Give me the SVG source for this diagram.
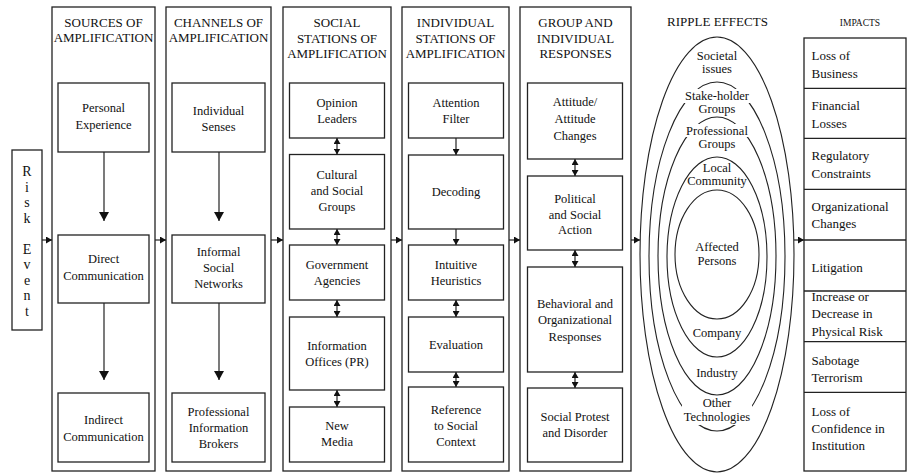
<svg xmlns="http://www.w3.org/2000/svg" width="907" height="473" viewBox="0 0 907 473" font-family="'Liberation Serif', 'Times New Roman', 'DejaVu Serif', serif">
<defs>
<style>
svg, text{font-family:'Liberation Serif','Times New Roman','DejaVu Serif',serif;fill:#111}
.h{font-size:13px;text-anchor:middle}
.t{font-size:12.5px;text-anchor:middle}
.e{font-size:12.5px;text-anchor:middle}
.i{font-size:13px}
.panel{fill:none;stroke:#222;stroke-width:1.3}
.box{fill:#fff;stroke:#222;stroke-width:1.3}
.ell{fill:none;stroke:#222;stroke-width:1.1}
.mask{fill:#fff;stroke:none}
#connectors line{stroke:#222;stroke-width:1.2}
.d{marker-start:url(#a);marker-end:url(#a)}
.s{marker-end:url(#a)}
.big{marker-end:url(#b)}
</style>
<marker id="a" viewBox="0 0 6 7" refX="6" refY="3.5" markerWidth="6" markerHeight="7" markerUnits="userSpaceOnUse" orient="auto-start-reverse"><path d="M0,0 L6,3.5 L0,7 z" fill="#111"/></marker>
<marker id="b" viewBox="0 0 9 10" refX="9" refY="5" markerWidth="9" markerHeight="10" markerUnits="userSpaceOnUse" orient="auto"><path d="M0,0 L9,5 L0,10 z" fill="#111"/></marker>
</defs>
<rect x="0" y="0" width="907" height="473" fill="#fff"/>

<g id="risk-event">
<rect class="box" x="12" y="150" width="30" height="180"/>
<text class="h" style="font-size:14px" x="27" y="176">R</text>
<text class="h" style="font-size:14px" x="27" y="191.5">i</text>
<text class="h" style="font-size:14px" x="27" y="207">s</text>
<text class="h" style="font-size:14px" x="27" y="222.5">k</text>
<text class="h" style="font-size:14px" x="27" y="253.5">E</text>
<text class="h" style="font-size:14px" x="27" y="269">v</text>
<text class="h" style="font-size:14px" x="27" y="284.5">e</text>
<text class="h" style="font-size:14px" x="27" y="300">n</text>
<text class="h" style="font-size:14px" x="27" y="315.5">t</text>
</g>

<g id="sources">
<rect class="panel" x="52" y="7" width="103" height="464"/>
<text class="h" x="103.5" y="27">SOURCES OF</text>
<text class="h" x="103.5" y="42">AMPLIFICATION</text>
</g>
<g id="personal-experience"><rect class="box" x="58" y="83" width="91" height="69"/>
<text class="t" x="103.5" y="112">Personal</text><text class="t" x="103.5" y="129">Experience</text></g>
<g id="direct-communication"><rect class="box" x="58" y="235" width="91" height="68"/>
<text class="t" x="103.5" y="263">Direct</text><text class="t" x="103.5" y="279.5">Communication</text></g>
<g id="indirect-communication"><rect class="box" x="58" y="393" width="91" height="69"/>
<text class="t" x="103.5" y="424">Indirect</text><text class="t" x="103.5" y="440.5">Communication</text></g>

<g id="channels">
<rect class="panel" x="166" y="7" width="105" height="464"/>
<text class="h" x="218.5" y="27">CHANNELS OF</text>
<text class="h" x="218.5" y="42">AMPLIFICATION</text>
</g>
<g id="individual-senses"><rect class="box" x="172" y="83" width="93" height="69"/>
<text class="t" x="218.5" y="115">Individual</text><text class="t" x="218.5" y="131">Senses</text></g>
<g id="informal-social-networks"><rect class="box" x="172" y="235" width="93" height="68"/>
<text class="t" x="218.5" y="256">Informal</text><text class="t" x="218.5" y="272">Social</text><text class="t" x="218.5" y="288">Networks</text></g>
<g id="professional-information-brokers"><rect class="box" x="172" y="393" width="93" height="69"/>
<text class="t" x="218.5" y="416">Professional</text><text class="t" x="218.5" y="432">Information</text><text class="t" x="218.5" y="448">Brokers</text></g>

<g id="social-stations">
<rect class="panel" x="283" y="7" width="108" height="464"/>
<text class="h" x="337" y="27">SOCIAL</text>
<text class="h" x="337" y="42.5">STATIONS OF</text>
<text class="h" x="337" y="58">AMPLIFICATION</text>
</g>
<g id="opinion-leaders"><rect class="box" x="289.5" y="83" width="95" height="55"/>
<text class="t" x="337" y="106.5">Opinion</text><text class="t" x="337" y="123">Leaders</text></g>
<g id="cultural-social-groups"><rect class="box" x="289.5" y="154.5" width="95" height="74.5"/>
<text class="t" x="337" y="179">Cultural</text><text class="t" x="337" y="195">and Social</text><text class="t" x="337" y="211">Groups</text></g>
<g id="government-agencies"><rect class="box" x="289.5" y="245" width="95" height="55"/>
<text class="t" x="337" y="269">Government</text><text class="t" x="337" y="285">Agencies</text></g>
<g id="information-offices"><rect class="box" x="289.5" y="317" width="95" height="73"/>
<text class="t" x="337" y="349.5">Information</text><text class="t" x="337" y="365.5">Offices (PR)</text></g>
<g id="new-media"><rect class="box" x="289.5" y="407" width="95" height="55"/>
<text class="t" x="337" y="430">New</text><text class="t" x="337" y="446">Media</text></g>

<g id="individual-stations">
<rect class="panel" x="402" y="7" width="107" height="464"/>
<text class="h" x="455.5" y="27">INDIVIDUAL</text>
<text class="h" x="455.5" y="42.5">STATIONS OF</text>
<text class="h" x="455.5" y="58">AMPLIFICATION</text>
</g>
<g id="attention-filter"><rect class="box" x="408.5" y="83" width="95" height="55"/>
<text class="t" x="456" y="106.5">Attention</text><text class="t" x="456" y="122.5">Filter</text></g>
<g id="decoding"><rect class="box" x="408.5" y="155" width="95" height="74"/>
<text class="t" x="456" y="196">Decoding</text></g>
<g id="intuitive-heuristics"><rect class="box" x="408.5" y="245" width="95" height="55"/>
<text class="t" x="456" y="269">Intuitive</text><text class="t" x="456" y="285">Heuristics</text></g>
<g id="evaluation"><rect class="box" x="408.5" y="317" width="95" height="55"/>
<text class="t" x="456" y="348.5">Evaluation</text></g>
<g id="reference-social-context"><rect class="box" x="408.5" y="387" width="95" height="75"/>
<text class="t" x="456" y="413.5">Reference</text><text class="t" x="456" y="430">to Social</text><text class="t" x="456" y="446">Context</text></g>

<g id="group-responses">
<rect class="panel" x="520" y="7" width="111" height="464"/>
<text class="h" x="575.5" y="27">GROUP AND</text>
<text class="h" x="575.5" y="42.5">INDIVIDUAL</text>
<text class="h" x="575.5" y="58">RESPONSES</text>
</g>
<g id="attitude-changes"><rect class="box" x="527.5" y="83" width="95" height="76"/>
<text class="t" x="575" y="106">Attitude/</text><text class="t" x="575" y="123">Attitude</text><text class="t" x="575" y="140">Changes</text></g>
<g id="political-social-action"><rect class="box" x="527.5" y="176" width="95" height="74"/>
<text class="t" x="575" y="203">Political</text><text class="t" x="575" y="218.5">and Social</text><text class="t" x="575" y="234">Action</text></g>
<g id="behavioral-responses"><rect class="box" x="527.5" y="267" width="95" height="105"/>
<text class="t" x="575" y="307.5">Behavioral and</text><text class="t" x="575" y="324">Organizational</text><text class="t" x="575" y="340.5">Responses</text></g>
<g id="social-protest"><rect class="box" x="527.5" y="388" width="95" height="74"/>
<text class="t" x="575" y="420.5">Social Protest</text><text class="t" x="575" y="436.5">and Disorder</text></g>

<g id="ripple-effects">
<text class="h" x="717.5" y="26">RIPPLE EFFECTS</text>
<ellipse class="ell" cx="717" cy="254.5" rx="77" ry="217.5"/>
<ellipse class="ell" cx="717" cy="256.5" rx="68" ry="174.5"/>
<ellipse class="ell" cx="717" cy="256" rx="59" ry="139"/>
<ellipse class="ell" cx="717" cy="257" rx="50" ry="100"/>
<ellipse class="ell" cx="717" cy="254.5" rx="42" ry="64.5"/>
<rect class="mask" x="683" y="89" width="69" height="14"/>
<rect class="mask" x="684" y="124" width="67" height="13"/>
<rect class="mask" x="682" y="403" width="70" height="22"/>
<text class="e" x="717" y="59.5">Societal</text><text class="e" x="717" y="73">issues</text>
<text class="e" x="717" y="99.5">Stake-holder</text><text class="e" x="717" y="113">Groups</text>
<text class="e" x="717" y="134.5">Professional</text><text class="e" x="717" y="148">Groups</text>
<text class="e" x="717" y="171.5">Local</text><text class="e" x="717" y="185">Community</text>
<text class="e" x="717" y="251">Affected</text><text class="e" x="717" y="264.5">Persons</text>
<text class="e" x="717" y="336.5">Company</text>
<text class="e" x="717" y="376.5">Industry</text>
<text class="e" x="717" y="407">Other</text><text class="e" x="717" y="420.5">Technologies</text>
</g>

<g id="impacts">
<text class="h" style="font-size:9.5px" x="860" y="26">IMPACTS</text>
<rect class="panel" x="804" y="38" width="102" height="433"/>
<g stroke="#222" stroke-width="1.3">
<line x1="804" y1="88.3" x2="906" y2="88.3"/>
<line x1="804" y1="138.3" x2="906" y2="138.3"/>
<line x1="804" y1="189.3" x2="906" y2="189.3"/>
<line x1="804" y1="240" x2="906" y2="240"/>
<line x1="804" y1="291" x2="906" y2="291"/>
<line x1="804" y1="341.7" x2="906" y2="341.7"/>
<line x1="804" y1="392.3" x2="906" y2="392.3"/>
</g>
<text class="i" x="811.5" y="60">Loss of</text><text class="i" x="811.5" y="77.5">Business</text>
<text class="i" x="811.5" y="110">Financial</text><text class="i" x="811.5" y="127.5">Losses</text>
<text class="i" x="811.5" y="160">Regulatory</text><text class="i" x="811.5" y="177.5">Constraints</text>
<text class="i" x="811.5" y="211">Organizational</text><text class="i" x="811.5" y="228">Changes</text>
<text class="i" x="811.5" y="272">Litigation</text>
<text class="i" x="811.5" y="300.5">Increase or</text><text class="i" x="811.5" y="318">Decrease in</text><text class="i" x="811.5" y="335.5">Physical Risk</text>
<text class="i" x="811.5" y="365">Sabotage</text><text class="i" x="811.5" y="381.5">Terrorism</text>
<text class="i" x="811.5" y="416">Loss of</text><text class="i" x="811.5" y="433">Confidence in</text><text class="i" x="811.5" y="450">Institution</text>
</g>

<g id="connectors">
<line class="big" x1="104" y1="152" x2="104" y2="221"/>
<line class="big" x1="104" y1="303" x2="104" y2="380"/>
<line class="big" x1="219" y1="152" x2="219" y2="221"/>
<line class="big" x1="219" y1="303" x2="219" y2="380"/>
<line class="d" x1="337" y1="138" x2="337" y2="154.5"/>
<line class="d" x1="337" y1="229" x2="337" y2="245"/>
<line class="d" x1="337" y1="300" x2="337" y2="317"/>
<line class="d" x1="337" y1="390" x2="337" y2="407"/>
<line class="s" x1="456" y1="138" x2="456" y2="155"/>
<line class="s" x1="456" y1="229" x2="456" y2="245"/>
<line class="d" x1="456" y1="300" x2="456" y2="317"/>
<line class="d" x1="456" y1="372" x2="456" y2="387"/>
<line class="d" x1="575" y1="159" x2="575" y2="176"/>
<line class="d" x1="575" y1="250" x2="575" y2="267"/>
<line class="d" x1="575" y1="372" x2="575" y2="388"/>
<line class="s" x1="42" y1="240" x2="52" y2="240"/>
<line class="s" x1="155" y1="240" x2="166" y2="240"/>
<line class="s" x1="271" y1="240" x2="283" y2="240"/>
<line class="s" x1="391" y1="240" x2="402" y2="240"/>
<line class="s" x1="509" y1="240" x2="520" y2="240"/>
<line class="s" x1="631" y1="240" x2="640" y2="240"/>
<line class="s" x1="794" y1="240" x2="804" y2="240"/>
</g>
</svg>
